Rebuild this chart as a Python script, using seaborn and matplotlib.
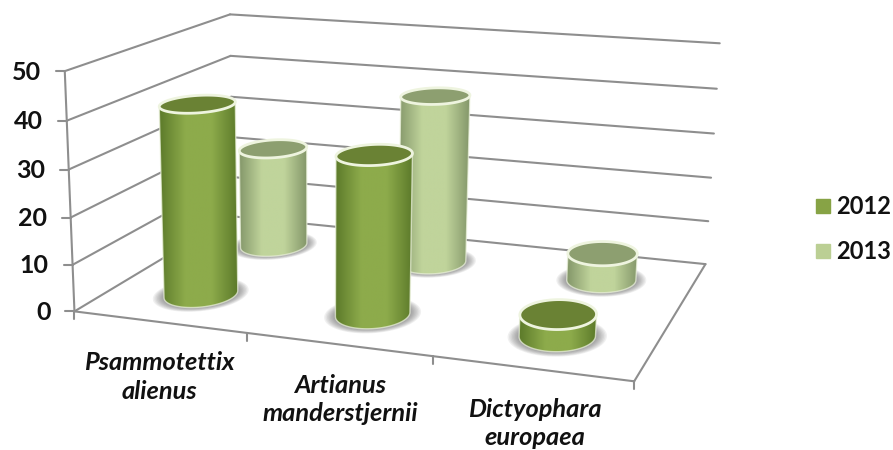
import numpy as np
import matplotlib
matplotlib.use("Agg")
import matplotlib.pyplot as plt
from matplotlib.lines import Line2D
from matplotlib.patches import Polygon
import seaborn as sns

# --- data ---
categories = ["Psammotettix\nalienus", "Artianus\nmanderstjernii", "Dictyophara\neuropaea"]
years = ["2012", "2013"]
values_2012 = [41, 33.5, 4.5]
values_2013 = [23, 38, 6]
z_ticks = [0, 10, 20, 30, 40, 50]

# --- colours ---
EDGE = {"2012": "#5c7a2a", "2013": "#84976a"}
MID = {"2012": "#8dab4b", "2013": "#c0d49b"}
TOP = {"2012": "#6a8234", "2013": "#8d9f70"}
SWATCH = {"2012": "#87a345", "2013": "#bbcf94"}
RIM = "#eef4df"
GRID = "#8e8e8e"

# box corners on screen (pixels), used to fit the perspective
BOX_3D = [(0, 0, 0), (3, 0, 0), (3, 1, 0), (0, 1, 0),
          (0, 0, 50), (3, 0, 50), (3, 1, 50), (0, 1, 50)]
BOX_PX = [(76, 311), (633, 381), (707, 264), (231, 217),
          (63, 70), (650, 116), (718, 42), (232, 15)]
ROW_DEPTH = {"2012": 0.25, "2013": 0.75}
RADIUS_U, RADIUS_V = 0.19, 0.12

sns.set_theme(style="white")
plt.rcParams["font.family"] = ["Lato", "DejaVu Sans"]


def fit_camera():
    rows, rhs = [], []
    for (u, v, z), (px, py) in zip(BOX_3D, BOX_PX):
        z = z / 50
        rows.append([u, v, z, 1, 0, 0, 0, 0, -px * u, -px * v, -px * z])
        rows.append([0, 0, 0, 0, u, v, z, 1, -py * u, -py * v, -py * z])
        rhs += [px, py]
    p = np.linalg.lstsq(np.array(rows, float), np.array(rhs, float), rcond=None)[0]
    return np.append(p, 1).reshape(3, 4)


CAM = fit_camera()


def project(u, v, z):
    u, v, z = np.broadcast_arrays(u, v, np.asarray(z, float) / 50)
    pts = np.stack([u, v, z, np.ones_like(u, dtype=float)])
    x, y, w = CAM @ pts
    return x / w, y / w


def line3d(ax, a, b, lw=1.5):
    xs, ys = project(np.array([a[0], b[0]]), np.array([a[1], b[1]]), np.array([a[2], b[2]]))
    sns.lineplot(x=xs, y=ys, sort=False, estimator=None, color=GRID, lw=lw, ax=ax, zorder=1)


def ring(u, v, z, scale=1.0, n=120):
    t = np.linspace(0, 2 * np.pi, n, endpoint=False)
    return np.column_stack(project(u + scale * RADIUS_U * np.cos(t), v + scale * RADIUS_V * np.sin(t), z))


def hull(points):
    pts = sorted(map(tuple, points))

    def half(seq):
        out = []
        for p in seq:
            while len(out) > 1 and (out[-1][0] - out[-2][0]) * (p[1] - out[-2][1]) - (out[-1][1] - out[-2][1]) * (p[0] - out[-2][0]) <= 0:
                out.pop()
            out.append(p)
        return out[:-1]

    return np.array(half(pts) + half(pts[::-1]))


def cylinder(ax, u, v, value, year, zo):
    base = ring(u, v, 0)
    top = ring(u, v, value)

    # soft shadow on the floor
    for s in np.linspace(1.3, 1.0, 9):
        ax.add_patch(Polygon(ring(u, v, 0, s), fc="#5a5a5a", ec="none", alpha=0.09, zorder=zo))

    body = hull(np.vstack([base, top]))
    cmap = sns.blend_palette([EDGE[year], MID[year], MID[year], EDGE[year]], 64, as_cmap=True)
    x0, x1 = body[:, 0].min(), body[:, 0].max()
    y0, y1 = body[:, 1].min(), body[:, 1].max()
    im = ax.imshow(np.linspace(0, 1, 128)[None, :], extent=(x0, x1, y1, y0), cmap=cmap,
                   aspect="auto", zorder=zo + 1, interpolation="bilinear")
    im.set_clip_path(Polygon(body, transform=ax.transData))
    ax.add_patch(Polygon(body, fc="none", ec=RIM, lw=1.0, alpha=0.7, zorder=zo + 2))
    ax.add_patch(Polygon(base, fc="none", ec="none", zorder=zo + 2))
    ax.add_patch(Polygon(top, fc=TOP[year], ec=RIM, lw=2.0, zorder=zo + 3))


fig = plt.figure(figsize=(8.93, 4.5), dpi=100)
ax = fig.add_axes([0, 0, 1, 1])

# walls and floor
for z in z_ticks:
    line3d(ax, (0, 0, z), (0, 1, z))
    line3d(ax, (0, 1, z), (3, 1, z))
    x, y = project(0, 0, z)
    sns.lineplot(x=[float(x) - 9, float(x)], y=[float(y), float(y)], color=GRID, lw=1.5, ax=ax, zorder=1,
                 sort=False, estimator=None)
    ax.text(float(x) - 24, float(y) + 1, str(z), ha="right", va="center", fontsize=18, fontweight="bold", color="#111111")
line3d(ax, (0, 0, 0), (0, 0, 50))
line3d(ax, (0, 0, 0), (3, 0, 0))
line3d(ax, (3, 0, 0), (3, 1, 0))
for i in range(4):
    x, y = project(i, 0, 0)
    sns.lineplot(x=[float(x), float(x)], y=[float(y), float(y) + 8], color=GRID, lw=1.5, ax=ax, zorder=1,
                 sort=False, estimator=None)

# back row first so the front row covers it
zo = 3
for year, vals in [("2013", values_2013), ("2012", values_2012)]:
    for i, val in enumerate(vals):
        cylinder(ax, i + 0.5, ROW_DEPTH[year], val, year, zo)
        zo += 5

# category labels follow the front edge
for i, name in enumerate(categories):
    x, y = project(i + 0.5, 0, 0)
    ax.text(float(x) + 1.5 * i, float(y) + 55, name, ha="center", va="center", fontsize=18.3, fontweight="bold",
            fontstyle="italic", color="#111111", linespacing=1.3, clip_on=True, zorder=50)

handles = [Line2D([], [], ls="", marker="s", ms=9.5, color=SWATCH[y]) for y in years]
ax.legend(handles, years, loc="center left", bbox_to_anchor=(815, 229), bbox_transform=ax.transData,
          frameon=False, prop={"size": 17, "weight": "bold"}, labelspacing=0.95, handletextpad=0.2,
          handlelength=0.7, borderpad=0, borderaxespad=0, labelcolor="#111111")

ax.set_xlim(0, 893)
ax.set_ylim(450, 0)
ax.axis("off")
fig.savefig("out.png", dpi=100)
